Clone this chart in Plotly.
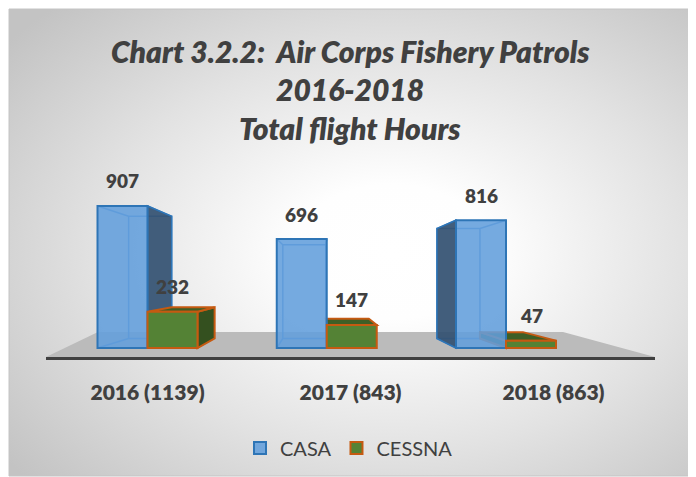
import base64
import plotly.graph_objects as go

# ---------------- data ----------------
years = ["2016", "2017", "2018"]
casa_hours = [907, 696, 816]
cessna_hours = [232, 147, 47]
category_labels = ["2016 (1139)", "2017 (843)", "2018 (863)"]
series_names = ["CASA", "CESSNA"]
title_lines = ["Chart 3.2.2:  Air Corps Fishery Patrols", "2016-2018", "Total flight Hours"]

# ---------------- layout constants (screen pixels) ----------------
WIN_W, WIN_H = 696, 477
PAGE_OFFSET = 8          # default body margin of the html page
PLOT_L, PLOT_R, PLOT_T, PLOT_B = 46, 655, 150, 357
BASE_PX = 348            # bottom edge of the bar fronts
PX_PER_HOUR = 0.1566
CAT0_PX = 147.5          # centre of first bar group
CAT_STEP_PX = 179.25
BAR_W_PX = 50
VP_PX = (320, 280)       # vanishing point for the pseudo-3D depth
DEPTH_SCALE = 0.86
FLOOR_BACK_PY = 332
FLOOR_BACK_L_PX, FLOOR_BACK_R_PX = 98, 563
CHART_BOX = (9, 9, 692, 476)
TITLE_CX = 350
TITLE_CY = [51, 89, 128]
LEGEND_C = (349, 448)

FONT = "Lato"
TXT = "#404040"
CASA_FILL = "rgba(98,158,220,0.88)"
CASA_LINE = "#2E75B6"
CASA_WIRE = "rgba(60,130,205,0.9)"
CASA_SIDE = "rgba(52,82,114,0.93)"
CESSNA_FILL = "#548235"
CESSNA_TOP = "#3E5F26"
CESSNA_SIDE = "#34501F"
CESSNA_LINE = "#C55A11"


def hx(px):
    return (px - CAT0_PX) / CAT_STEP_PX


def hy(py):
    return (BASE_PX - py) / PX_PER_HOUR


def paper_x(px):
    return (px - PLOT_L) / (PLOT_R - PLOT_L)


def paper_y(py):
    return (PLOT_B - py) / (PLOT_B - PLOT_T)


XV, YV = hx(VP_PX[0]), hy(VP_PX[1])
bar_w = BAR_W_PX / CAT_STEP_PX


def proj(x, v, s=DEPTH_SCALE):
    return (XV + (x - XV) * s, YV + (v - YV) * s)


def path(points, close=True):
    d = "M " + " L ".join(f"{x:.5f},{y:.5f}" for x, y in points)
    return d + (" Z" if close else "")


shapes = []

# floor
floor = [(hx(PLOT_L), hy(PLOT_B)), (hx(PLOT_R), hy(PLOT_B)),
         (hx(FLOOR_BACK_R_PX), hy(FLOOR_BACK_PY)), (hx(FLOOR_BACK_L_PX), hy(FLOOR_BACK_PY))]
shapes.append(dict(type="path", xref="x2", yref="y", path=path(floor),
                   fillcolor="#BBBBBB", line=dict(width=0), layer="below"))


def faces(xl, xr, v, fill_side, fill_top, line_col, lw, wire=None):
    out = []
    f = {"lb": (xl, 0), "rb": (xr, 0), "rt": (xr, v), "lt": (xl, v)}
    b = {k: proj(*p) for k, p in f.items()}
    if wire:
        d = path([b["lb"], b["rb"], b["rt"], b["lt"]])
        for k in f:
            d += " M %.5f,%.5f L %.5f,%.5f" % (f[k] + b[k])
        out.append(dict(type="path", xref="x2", yref="y", path=d,
                        line=dict(color=wire, width=1.5), layer="below"))
    if xr < XV:   # right face visible
        out.append(dict(type="path", xref="x2", yref="y",
                        path=path([f["rb"], f["rt"], b["rt"], b["rb"]]),
                        fillcolor=fill_side, line=dict(color=line_col, width=lw), layer="below"))
    if xl > XV + bar_w * 0.5:   # left face visible
        out.append(dict(type="path", xref="x2", yref="y",
                        path=path([f["lb"], f["lt"], b["lt"], b["lb"]]),
                        fillcolor=fill_side, line=dict(color=line_col, width=lw), layer="below"))
    if v < YV:    # top face visible
        out.append(dict(type="path", xref="x2", yref="y",
                        path=path([f["lt"], f["rt"], b["rt"], b["lt"]]),
                        fillcolor=fill_top, line=dict(color=line_col, width=lw), layer="below"))
    return out


for i, v in enumerate(casa_hours):
    shapes += faces(i - bar_w, i, v, CASA_SIDE, CASA_SIDE, CASA_LINE, 1.5, wire=CASA_WIRE)
for i, v in enumerate(cessna_hours):
    shapes += faces(i, i + bar_w, v, CESSNA_SIDE, CESSNA_TOP, CESSNA_LINE, 2)

# chart area border
shapes.append(dict(type="rect", xref="paper", yref="paper",
                   x0=paper_x(CHART_BOX[0]), x1=paper_x(CHART_BOX[2]),
                   y0=paper_y(CHART_BOX[3]), y1=paper_y(CHART_BOX[1]),
                   line=dict(color="#C4C4C4", width=1), layer="below"))

# background radial gradient
bw, bh = CHART_BOX[2] - CHART_BOX[0], CHART_BOX[3] - CHART_BOX[1]
svg = f'''<svg xmlns="http://www.w3.org/2000/svg" width="{bw}" height="{bh}" viewBox="0 0 {bw} {bh}" preserveAspectRatio="none">
<defs><radialGradient id="g" cx="0.56" cy="0.52" r="0.72" fx="0.56" fy="0.52">
<stop offset="0" stop-color="#FFFFFF"/><stop offset="0.2" stop-color="#FEFEFE"/>
<stop offset="0.6" stop-color="#E2E2E2"/><stop offset="1" stop-color="#C3C3C3"/></radialGradient></defs>
<rect x="0" y="0" width="{bw}" height="{bh}" fill="url(#g)"/></svg>'''
bg_src = "data:image/svg+xml;base64," + base64.b64encode(svg.encode()).decode()

fig = go.Figure()
# invisible helper so that the category axis (x) gets drawn
fig.add_trace(go.Scatter(x=[0, 1, 2], y=[0, 0, 0], xaxis="x", yaxis="y", mode="markers",
                         marker=dict(opacity=0), showlegend=False, hoverinfo="skip"))
fig.add_trace(go.Bar(x=[0, 1, 2], y=casa_hours, name=series_names[0], xaxis="x2", yaxis="y",
                     marker=dict(color=CASA_FILL, line=dict(color=CASA_LINE, width=2)),
                     hoverinfo="skip"))
fig.add_trace(go.Bar(x=[0, 1, 2], y=cessna_hours, name=series_names[1], xaxis="x2", yaxis="y",
                     marker=dict(color=CESSNA_FILL, line=dict(color=CESSNA_LINE, width=2)),
                     hoverinfo="skip"))

LABEL_FONT = dict(family=FONT, size=19, color=TXT, weight=800)
annotations = []
for i, v in enumerate(casa_hours):
    annotations.append(dict(x=i - bar_w / 2, y=v, xref="x2", yref="y", text=str(v), showarrow=False,
                            yshift=25, font=LABEL_FONT))
for i, v in enumerate(cessna_hours):
    annotations.append(dict(x=i + bar_w / 2, y=v, xref="x2", yref="y", text=str(v), showarrow=False,
                            yshift=25, font=LABEL_FONT))
for line, cy in zip(title_lines, TITLE_CY):
    annotations.append(dict(x=paper_x(TITLE_CX), y=paper_y(cy), xref="paper", yref="paper",
                            text=line, showarrow=False, xanchor="center", yanchor="middle",
                            font=dict(family=FONT, size=30, color=TXT, weight=800, style="italic")))

fig.update_layout(
    width=WIN_W - PAGE_OFFSET, height=WIN_H - PAGE_OFFSET,
    margin=dict(l=PLOT_L - PAGE_OFFSET, r=WIN_W - PLOT_R, t=PLOT_T - PAGE_OFFSET,
                b=WIN_H - PLOT_B, pad=0, autoexpand=False),
    paper_bgcolor="white", plot_bgcolor="rgba(0,0,0,0)",
    barmode="group", bargap=1 - 2 * bar_w, bargroupgap=0,
    xaxis=dict(type="linear", range=[-0.5, 2.5], tickvals=[0, 1, 2], ticktext=category_labels,
               showline=True, linecolor="#404040", linewidth=3, showgrid=False, zeroline=False,
               ticks="", ticklabelstandoff=15,
               tickfont=dict(family=FONT, size=21, color=TXT, weight=800), fixedrange=True),
    xaxis2=dict(overlaying="x", range=[hx(PLOT_L), hx(PLOT_R)], visible=False, fixedrange=True),
    yaxis=dict(range=[hy(PLOT_B), hy(PLOT_T)], visible=False, fixedrange=True),
    showlegend=True,
    legend=dict(orientation="h", x=paper_x(LEGEND_C[0]), xanchor="center",
                y=paper_y(LEGEND_C[1]), yanchor="middle", bgcolor="rgba(0,0,0,0)",
                font=dict(family=FONT, size=20, color=TXT), itemwidth=30),
    shapes=shapes,
    annotations=annotations,
    images=[dict(source=bg_src, xref="paper", yref="paper",
                 x=paper_x(CHART_BOX[0]), y=paper_y(CHART_BOX[1]),
                 sizex=paper_x(CHART_BOX[2]) - paper_x(CHART_BOX[0]),
                 sizey=paper_y(CHART_BOX[1]) - paper_y(CHART_BOX[3]),
                 xanchor="left", yanchor="top", sizing="stretch", layer="below")],
)

fig.write_html("out.html")
